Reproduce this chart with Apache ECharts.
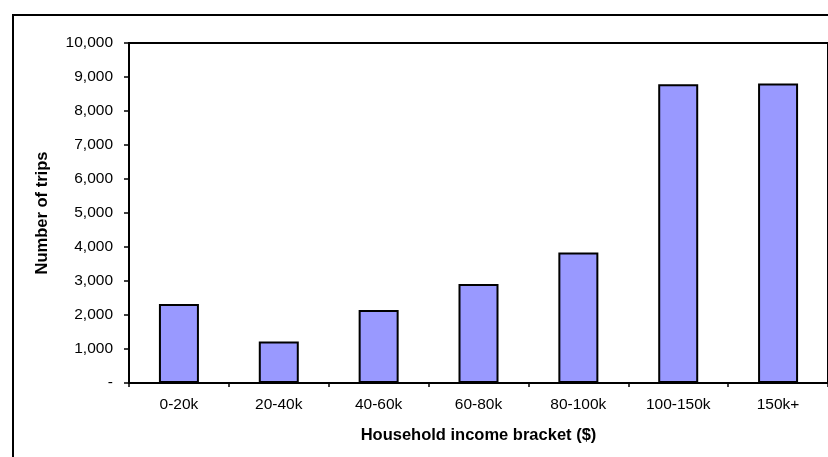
<!DOCTYPE html>
<html>
<head>
<meta charset="utf-8">
<title>Number of trips by household income bracket</title>
<script src="https://cdn.jsdelivr.net/npm/echarts@6/dist/echarts.min.js"></script>
<style>
  html, body { margin: 0; padding: 0; background: #ffffff; }
  #chart { width: 828px; height: 457px; }
</style>
</head>
<body>
<div id="chart"></div>
<script>
// Income brackets and trip counts
const incomeBrackets = ['0-20k', '20-40k', '40-60k', '60-80k', '80-100k', '100-150k', '150k+'];
const tripCounts = [2320, 1220, 2150, 2910, 3840, 8790, 8810];

// Value axis settings
const yMin = 0;
const yMax = 10000;
const yStep = 1000;

const xTitle = 'Household income bracket ($)';
const yTitle = 'Number of trips';

const FONT = '"Liberation Sans", Arial, sans-serif';

const chart = echarts.init(document.getElementById('chart'), null, { renderer: 'canvas' });

chart.setOption({
  animation: false,
  backgroundColor: '#ffffff',
  graphic: [{
    // outer chart frame
    type: 'rect',
    shape: { x: 13, y: 15, width: 840, height: 470 },
    style: { fill: 'none', stroke: '#000000', lineWidth: 2 },
    z: 0
  }],
  grid: {
    left: 129,
    top: 43,
    width: 702,
    height: 340,
    show: true,
    borderColor: '#000000',
    borderWidth: 2,
    backgroundColor: 'transparent'
  },
  xAxis: {
    type: 'category',
    data: incomeBrackets,
    name: xTitle,
    nameLocation: 'middle',
    nameGap: 44,
    nameTextStyle: { fontFamily: FONT, fontSize: 16.5, fontWeight: 'bold', color: '#000000' },
    axisLine: { lineStyle: { color: '#000000', width: 2 } },
    axisTick: { show: true, length: 4, lineStyle: { color: '#000000', width: 1.5 } },
    axisLabel: { fontFamily: FONT, fontSize: 15.5, color: '#000000', margin: 14 },
    splitLine: { show: false }
  },
  yAxis: {
    type: 'value',
    min: yMin,
    max: yMax,
    interval: yStep,
    name: yTitle,
    nameLocation: 'middle',
    nameGap: 78,
    nameTextStyle: { fontFamily: FONT, fontSize: 16.5, fontWeight: 'bold', color: '#000000' },
    axisLine: { show: true, lineStyle: { color: '#000000', width: 2 } },
    axisTick: { show: true, length: 5, lineStyle: { color: '#000000', width: 1.5 } },
    axisLabel: {
      fontFamily: FONT,
      fontSize: 15.5,
      color: '#000000',
      margin: 16,
      formatter: function (v) { return v === 0 ? '-' : v.toLocaleString('en-US'); }
    },
    splitLine: { show: false }
  },
  series: [{
    type: 'bar',
    data: tripCounts,
    barWidth: 40,
    itemStyle: { color: '#9999FF', borderColor: '#000000', borderWidth: 2 }
  }]
});
</script>
</body>
</html>
